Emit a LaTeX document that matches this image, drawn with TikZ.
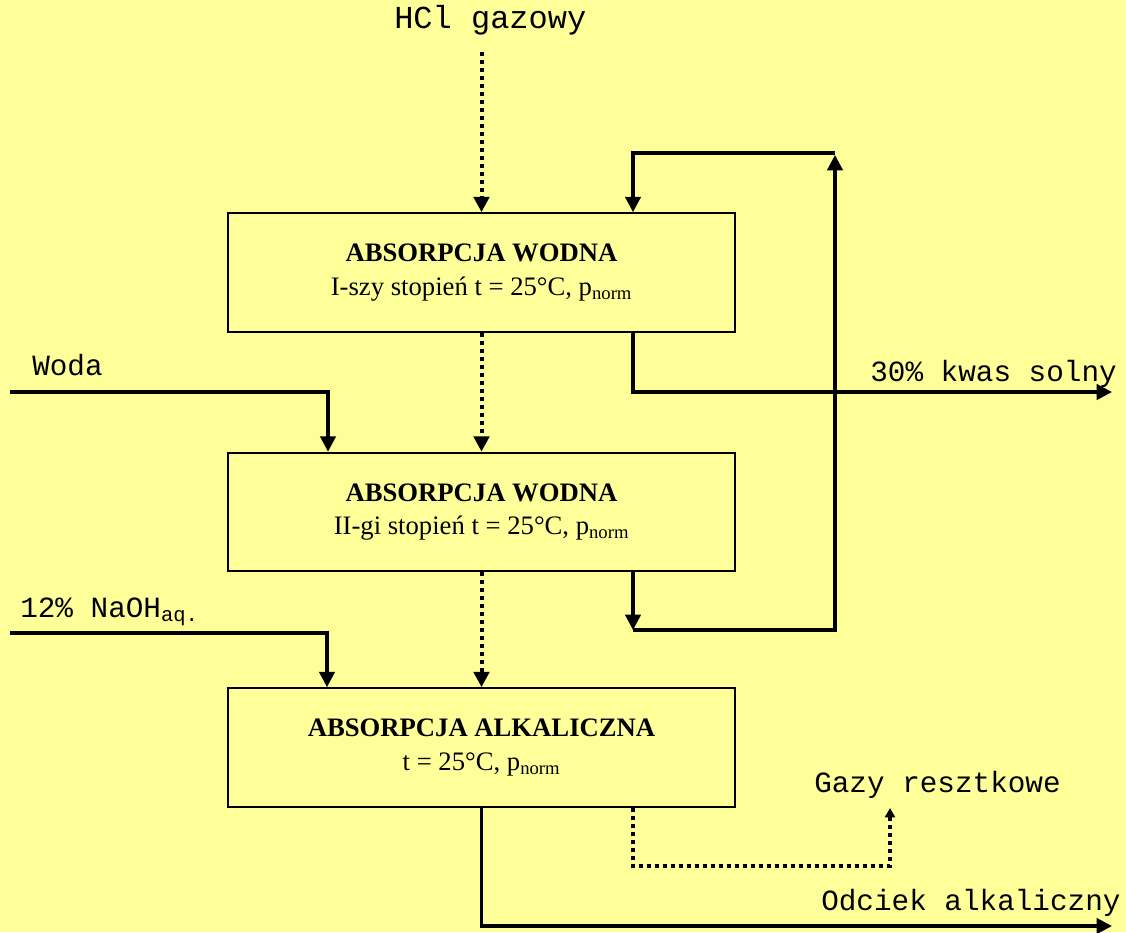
\documentclass[tikz,border=0pt]{standalone}
\usepackage{fontspec}
\setmainfont{Liberation Serif}
\setmonofont{Liberation Mono}
\usetikzlibrary{arrows.meta,calc}
\definecolor{paper}{HTML}{FFFF99}
\begin{document}
\begin{tikzpicture}[x=0.75pt,y=-0.75pt,
  box/.style={draw,line width=1.5pt,minimum width=380pt,minimum height=89pt,
    align=center,font=\fontsize{20}{25}\selectfont,inner sep=0pt},
  flow/.style={line width=2.4pt,line join=miter,-{Triangle[width=11.5pt,length=11.5pt]}},
  gas/.style={line width=3pt,line join=miter,dash pattern=on 3pt off 3pt,
    -{Triangle[width=11.5pt,length=11.5pt]}},
  gassmall/.style={line width=3pt,line join=miter,dash pattern=on 3pt off 3pt,
    -{Triangle[width=7.5pt,length=7pt]}},
  lbl/.style={font=\ttfamily\fontsize{22}{26}\selectfont,inner sep=0pt},
]
% background and page size
\fill[paper] (0,0) rectangle (1126,932);
\useasboundingbox (0,0) rectangle (1126,932);

% process units
\node[box] (b1) at (481.5,272.5) {\textbf{ABSORPCJA WODNA}\\I-szy stopień t = 25°C, p\textsubscript{norm}};
\node[box] (b2) at (481.5,512) {\textbf{ABSORPCJA WODNA}\\II-gi stopień t = 25°C, p\textsubscript{norm}};
\node[box] (b3) at (481.5,747.5) {\textbf{ABSORPCJA ALKALICZNA}\\t = 25°C, p\textsubscript{norm}};

% stream labels
\node[lbl,anchor=base west,font=\ttfamily\fontsize{24}{28}\selectfont] (hcl) at (394,28) {HCl gazowy};
\node[lbl,anchor=base east] (kwas) at (1117,381) {30\% kwas solny};
\node[lbl,anchor=base west] (woda) at (32,375) {Woda};
\node[lbl,anchor=base west] (naoh) at (20,617) {12\% NaOH\textsubscript{aq.}};
\node[lbl,anchor=base west] (gazy) at (814,792) {Gazy resztkowe};
\node[lbl,anchor=base west] (odciek) at (821,910) {Odciek alkaliczny};

% junction points
\coordinate (hclin) at (481.5,52);
\coordinate (b1out) at ($(b1.south)+(151.5,0)$);
\coordinate (b1in) at ($(b1.north)+(151.5,0)$);
\coordinate (b2out) at ($(b2.south)+(151.5,0)$);
\coordinate (b2in) at ($(b2.north)+(-153.5,0)$);
\coordinate (b3in) at ($(b3.north)+(-154.5,0)$);
\coordinate (b3gas) at ($(b3.south)+(151.5,0)$);
\coordinate (ret) at (633,630);
\coordinate (rise) at (835,630);
\coordinate (top) at (835,153);
\coordinate (kwasend) at (1112,392);
\coordinate (wodastart) at (10,392);
\coordinate (naohstart) at (10,633);
\coordinate (gasend) at (890,808);
\coordinate (odend) at (1112,926);

% gas path (dotted)
\draw[gas] (hclin) -- (b1.north);
\draw[gas] (b1.south) -- (b2.north);
\draw[gas] (b2.south) -- (b3.north);
\draw[gassmall] (b3gas) -- (b3gas |- 0,866) -- (gasend |- 0,866) -- (gasend);

% liquid streams
\draw[flow] (b1out) |- (kwasend);
\draw[flow] (b2out) -- (ret);
\draw[flow] (ret) -- (rise) -- ($(top)+(0,2)$);
\draw[flow] (top) -- (b1in |- top) -- (b1in);
\draw[flow] (wodastart) -| (b2in);
\draw[flow] (naohstart) -| (b3in);
\draw[flow] (b3.south) |- (odend);
\end{tikzpicture}
\end{document}
